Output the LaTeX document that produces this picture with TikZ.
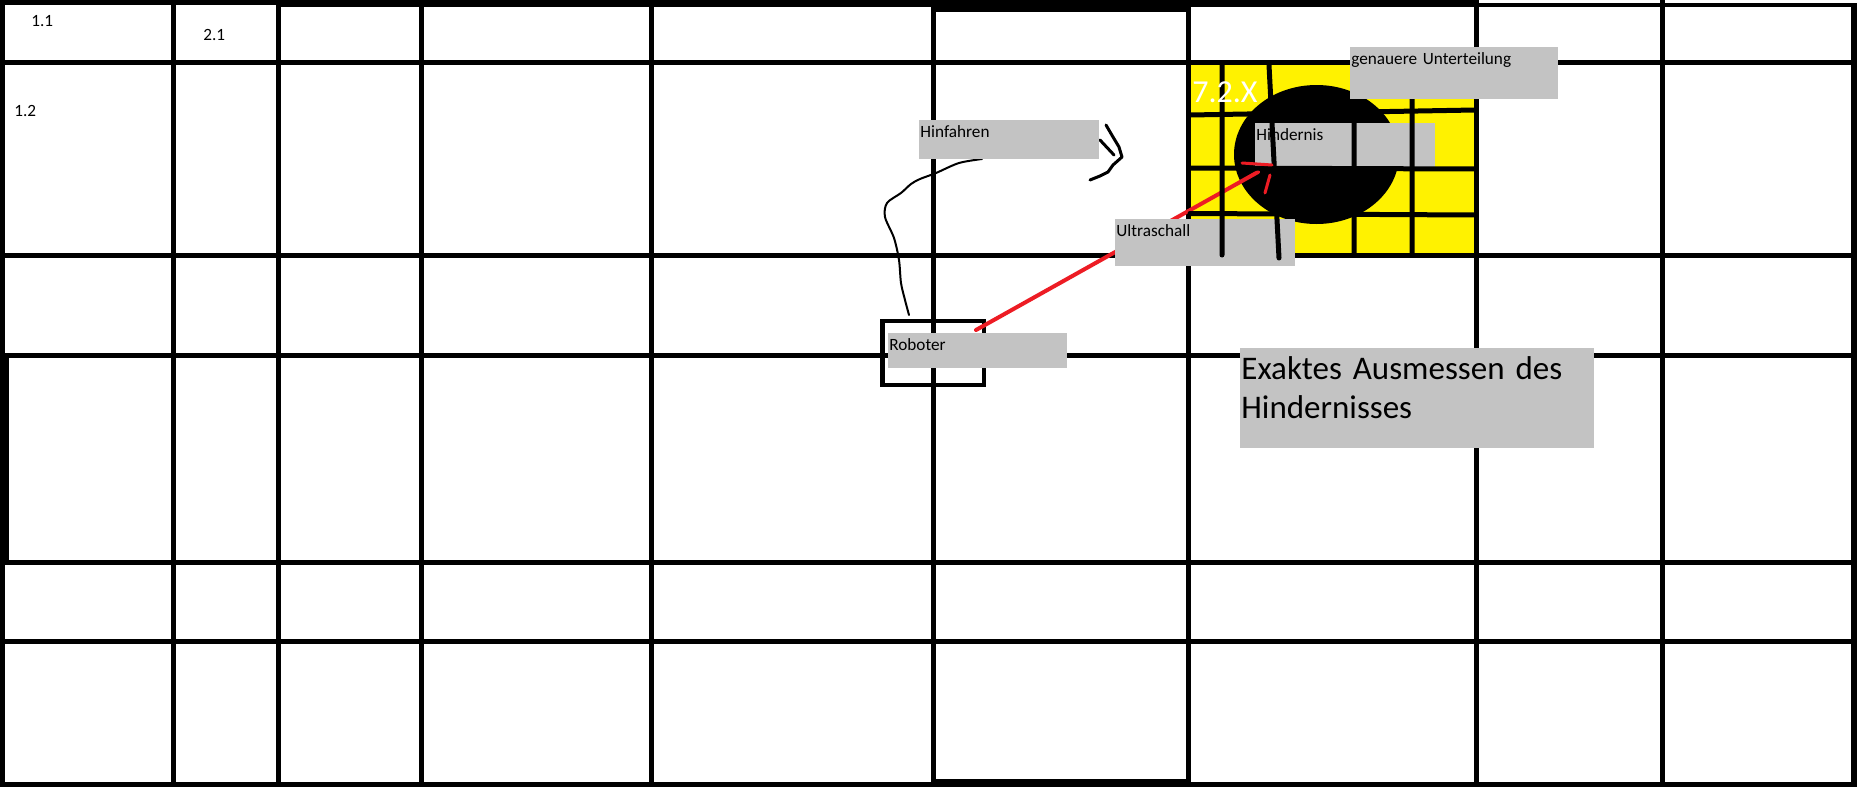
\documentclass[tikz,border=0pt]{standalone}
\usepackage{fontspec}
\setmainfont{Carlito}
\usepackage{tikz}
\definecolor{markyellow}{RGB}{255,242,0}
\definecolor{labelgrey}{RGB}{195,195,195}
\definecolor{sonicred}{RGB}{237,28,36}
\newcommand{\smalllabel}{\fontsize{8.6}{10}\selectfont}
\newcommand{\biglabel}{\fontsize{16.5}{19.5}\selectfont}

\begin{document}
\begin{tikzpicture}[x=0.5pt, y=-0.5pt,
  gridline/.style={line width=2.5pt},
  cellline/.style={line width=2.5pt, line cap=round},
  driveline/.style={line width=1pt, line cap=round, line join=round},
  ultraline/.style={sonicred, line width=2pt, line cap=round},
  labelbox/.style={fill=labelgrey, anchor=north west, inner xsep=0.5pt, inner ysep=0pt, align=left, text height=8.5pt, font=\smalllabel},
  celltext/.style={anchor=base west, inner sep=0pt, font=\smalllabel}]
\useasboundingbox (0,0) rectangle (1860,787);
\fill[white] (0,0) rectangle (1860,787);
\fill[markyellow] (1188.5,62.5) rectangle (1476.5,255);
\draw[gridline] (2.5,0) -- (2.5,787);
\draw[line width=4.5pt] (4.5,355) -- (4.5,562);
\draw[gridline] (0,2.5) -- (1478,2.5);
\draw[gridline] (278,4.5) -- (1478,4.5);
\draw[line width=2pt] (1478,5.3) -- (1857,5.3);
\draw[line width=3pt] (1853.5,3) -- (1853.5,787);
\draw[gridline] (0,784.5) -- (1857,784.5);
\draw[gridline] (0,62.5) -- (1856,62.5) (0,255) -- (1856,255) (0,355) -- (1856,355) (0,562) -- (1856,562) (0,641) -- (1856,641);
\draw[gridline] (173.5,0) -- (173.5,784) (278.5,0) -- (278.5,784) (421,0) -- (421,784) (651.5,0) -- (651.5,784) (933.5,0) -- (933.5,784) (1188.5,0) -- (1188.5,784) (1476.5,0) -- (1476.5,784) (1662,0) -- (1662,784);
\draw[gridline] (933.5,9.5) rectangle (1188.5,781.5);
\fill (1316.5,154.5) ellipse [x radius=41.25pt, y radius=34.75pt];
\node[draw, line width=2.25pt, minimum width=50.75pt, minimum height=32pt, inner sep=0pt] (robot) at (933.25,353) {};
\coordinate (drivestart) at (982,159);
\coordinate (driveend) at (909,315);
\draw[driveline] plot[smooth] coordinates {(drivestart) (959,163) (936,173) (920,179) (911,184) (901,193) (887,203) (885,217) (894,238) (899,260) (901,283) (905,300) (driveend)};
\draw[driveline, line width=1.5pt] (1106,125) -- (1113,137) -- (1119,147) -- (1122,157) -- (1113,165) -- (1108,172) -- (1100,176) -- (1090,180);
\draw[driveline, line width=1.5pt] (1100,140) -- (1114,155);
\coordinate (sensor) at (976,330);
\coordinate (target) at (1258,172);
\draw[ultraline] (sensor) -- (target);
\node[labelbox, text width=89pt, text depth=11pt] (drive) at (919,120) {Hinfahren};
\node[labelbox, text width=88.5pt, text depth=9pt] (robotlabel) at (888,333) {Roboter};
\node[labelbox, text width=89pt, text depth=13.5pt] (obstacle) at (1255,123) {Hindernis};
\node[labelbox, text width=89pt, text depth=15pt] (sonic) at (1115,219) {Ultraschall};
\draw[cellline] (1190,115) -- (1475,110) (1190,168) -- (1475,169) (1190,213.5) -- (1475,215);
\draw[cellline] (1222,65) -- (1222,255) (1269,65) -- (1279,258) (1354,65) -- (1354,254) (1412,65) -- (1412,254);
\draw[ultraline, line width=1.5pt] (1242,163) -- (1272,165);
\draw[ultraline, line width=1.5pt] (1270,175) -- (1265,193);
\node[labelbox, text width=103pt, text depth=17.5pt] (finer) at (1350,47) {genauere Unterteilung};
\node[labelbox, text width=176pt, text height=15.5pt, text depth=34.5pt, font=\biglabel] (measure) at (1240,348) {Exaktes Ausmessen des\\Hindernisses};
\node[celltext] (c11) at (31,26) {1.1};
\node[celltext] (c21) at (203,40) {2.1};
\node[celltext] (c12) at (14,116) {1.2};
\node[anchor=base west, inner sep=0pt, white, font=\fontsize{16}{19}\selectfont] (zone) at (1192,102) {7.2.X};
\end{tikzpicture}
\end{document}
